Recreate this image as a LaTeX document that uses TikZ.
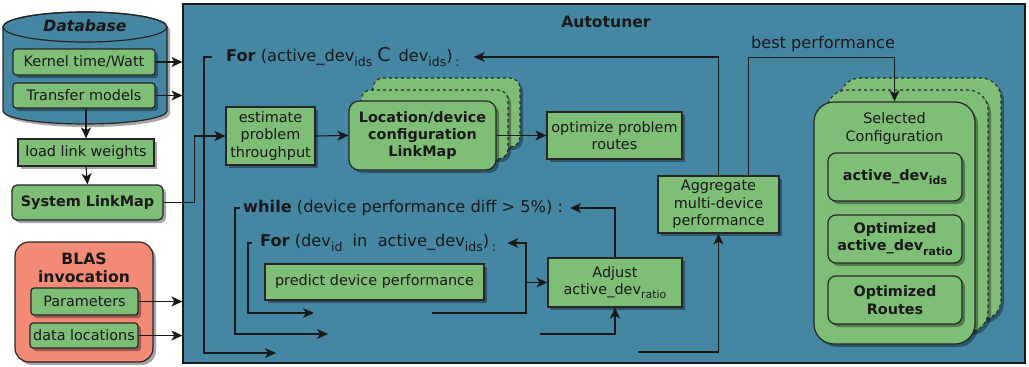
\documentclass[tikz,border=0pt]{standalone}
\usepackage{fontspec}
\setmainfont{DejaVu Sans}
\usetikzlibrary{arrows.meta,shadows,calc}
\definecolor{tealbg}{HTML}{4587A3}
\definecolor{grn}{HTML}{7FBE77}
\definecolor{salm}{HTML}{F28A76}
\newcommand\sbs[1]{\raisebox{-0.3em}{\fontsize{11}{11}\selectfont #1}}
\newcommand\lsb[1]{\raisebox{-0.3em}{\fontsize{12.5}{12.5}\selectfont #1}}
\tikzset{
 every node/.style={font=\fontsize{14.4}{17.3}\selectfont},
 shd/.style={drop shadow={shadow xshift=3pt, shadow yshift=-3pt, opacity=0.35, fill=black}},
 box/.style={draw=black!85, line width=1.2pt, fill=grn, inner sep=0pt, align=center, text=black!90, shd},
 rbox/.style={box, rounded corners=3pt},
 layer/.style={draw=black!85, line width=1.1pt, dashed, fill=grn, rounded corners=#1, shd},
 conn/.style={line width=1.1pt, draw=black!90},
 arr/.style={conn, -{Stealth[length=11pt,width=10pt,inset=3pt]}},
 lbl/.style={inner sep=0pt, text=black!90},
 loop/.style={lbl, font=\fontsize{16.2}{19}\selectfont},
 ttl/.style={lbl, font=\fontsize{15.6}{18.5}\selectfont\bfseries},
}
\begin{document}
\begin{tikzpicture}[x=1pt,y=-1pt]
\useasboundingbox (0,0) rectangle (1029,367);
% ---------- Database ----------
\path[draw=black!85, fill=tealbg, line width=1.2pt, shd] (3,27) -- (3,111)
  arc[start angle=180, end angle=360, x radius=82pt, y radius=13pt] -- (167,27)
  arc[start angle=0, end angle=180, x radius=82pt, y radius=15pt] -- cycle;
\draw[black!85, line width=1.2pt] (85,27) ellipse [x radius=82pt, y radius=15pt];
\node[ttl, font=\fontsize{15.6}{18.5}\selectfont\bfseries\itshape] (dbt) at (85,26) {Database};
\node[rbox, minimum width=142pt, minimum height=26pt] (kern) at (84,62) {Kernel time/Watt};
\node[rbox, minimum width=142pt, minimum height=25pt] (trans) at (84,95.5) {Transfer models};
\node[box, minimum width=136pt, minimum height=27pt] (loadlw) at (86,152.5) {load link weights};
\node[box, rounded corners=5pt, minimum width=151pt, minimum height=35pt, font=\fontsize{14.4}{17.3}\selectfont\bfseries] (syslm) at (87.5,202.5) {System LinkMap};
% ---------- BLAS ----------
\node[box, fill=salm, rounded corners=14pt, minimum width=138pt, minimum height=120pt] (blas) at (84,302) {};
\node[ttl, align=center] (blast) at (84,268) {BLAS\\invocation};
\node[rbox, minimum width=107pt, minimum height=27pt] (param) at (84.5,301.5) {Parameters};
\node[rbox, minimum width=108pt, minimum height=25pt] (dloc) at (84,335.5) {data locations};
% ---------- Autotuner ----------
\node[draw=black!90, fill=tealbg, line width=1.2pt, minimum width=842pt, minimum height=359pt, inner sep=0pt] (auto) at (604,183.5) {};
\node[ttl] (autot) at (606,22) {Autotuner};
% inputs
\draw[arr] (kern.east) -- (kern.east -| auto.west);
\draw[arr] (trans.east) -- (trans.east -| auto.west);
\draw[arr] (trans.south -| loadlw.north) -- (loadlw.north);
\draw[arr] (loadlw.south) -- (syslm.north);
\draw[arr] (param.east) -- (param.east -| auto.west);
\draw[arr] (dloc.east) -- (dloc.east -| auto.west);
% stacked layers
\draw[layer=10pt] (373,78) rectangle (520,147);
\draw[layer=10pt] (361,90) rectangle (508,159);
\draw[layer=20pt] (840,78) rectangle (1001,320);
\draw[layer=20pt] (827,90) rectangle (988,332);
% boxes
\node[box, minimum width=89pt, minimum height=58pt] (est) at (270.5,136) {estimate\\problem\\throughput};
\node[box, rounded corners=10pt, minimum width=147pt, minimum height=69pt, font=\fontsize{14.4}{17.3}\selectfont\bfseries] (loc) at (422.5,135.5) {Location/device\\configuration\\LinkMap};
\node[box, minimum width=135pt, minimum height=47pt] (opt) at (614.5,135.5) {optimize problem\\routes};
\node[box, minimum width=121pt, minimum height=57pt] (agg) at (718.5,204.5) {Aggregate\\multi-device\\performance};
\node[box, minimum width=219pt, minimum height=36pt] (pred) at (374.5,282) {predict device performance};
\node[box, minimum width=134pt, minimum height=49pt] (adj) at (615,282.5) {Adjust\\active\_dev\sbs{ratio}};
\node[box, rounded corners=20pt, minimum width=161pt, minimum height=242pt] (sel) at (894.5,223) {};
\node[lbl, align=center] (selt) at (894.5,128.5) {Selected\\Configuration};
\node[box, rounded corners=8pt, minimum width=134pt, minimum height=48pt, font=\fontsize{14.4}{17.3}\selectfont\bfseries] (ids) at (895,177) {active\_dev\sbs{\bfseries ids}};
\node[box, rounded corners=8pt, minimum width=134pt, minimum height=48pt, font=\fontsize{14.4}{17.3}\selectfont\bfseries] (ratio) at (895,239) {Optimized\\active\_dev\sbs{\bfseries ratio}};
\node[box, rounded corners=8pt, minimum width=134pt, minimum height=48pt, font=\fontsize{14.4}{17.3}\selectfont\bfseries] (routes) at (895,300) {Optimized\\Routes};
% loop texts
\node[loop, anchor=west] (forA) at (226,57) {\textbf{For} (active\_dev\lsb{ids} {\fontsize{19}{19}\selectfont C}\ \,dev\lsb{ids})\,\lsb{:}};
\node[loop, anchor=west] (whileT) at (243,208) {\textbf{while} (device performance diff > 5\%) :};
\node[loop, anchor=west] (forB) at (260,243) {\textbf{For} (dev\lsb{id}\ \ in\ \ active\_dev\lsb{ids})\,\lsb{:}};
\node[loop] (best) at (823,44) {best performance};
% coordinates
\coordinate (fAend) at (276,353);
\coordinate (wEnd) at (328,334);
\coordinate (fBend) at (314,313);
\coordinate (fBstart) at (432,313);
\coordinate (fBcorner) at (526,313);
\coordinate (adjIn) at (540,334);
\coordinate (aggIn) at (638,352);
% connectors
\draw[arr] (syslm.east) -- ++(31,0) |- (est.west);
\draw[arr] (est.east) -- (loc.west);
\draw[arr] (loc.east) -- (opt.west);
\draw[arr] ([xshift=-14pt]forA.west) -- ++(-8,0) |- (fAend);
\draw[arr] ([xshift=-3pt]whileT.west) -- ++(-5,0) |- (wEnd);
\draw[arr] ([xshift=-8pt]forB.west) -- ++(-4,0) |- (fBend);
\draw[arr] (agg.north) |- ([xshift=14pt]forA.east);
\draw[arr] ([xshift=30pt]agg.north) -- ++(0,-118) -| (sel.north);
\draw[arr] (adj.north) |- ([xshift=7pt]whileT.east);
\draw[arr] (fBstart) -- (fBcorner) |- ([xshift=11pt]forB.east);
\draw[arr] (fBcorner |- adj.west) -- (adj.west);
\draw[arr] (adjIn) -| (adj.south);
\draw[arr] (aggIn) -| (agg.south);
\end{tikzpicture}
\end{document}
